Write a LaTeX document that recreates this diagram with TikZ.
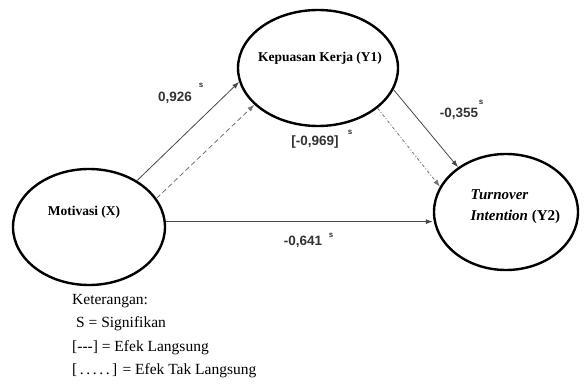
\documentclass[tikz,border=0pt]{standalone}
\usepackage{fontspec}
\setmainfont{Liberation Serif}
\newfontfamily\numfont{Liberation Sans}
\usetikzlibrary{shapes.geometric,arrows.meta}

\begin{document}
\begin{tikzpicture}[x=1pt,y=-1pt,
  var/.style={draw,ellipse,line width=2.4pt,inner sep=0pt},
  vtxt/.style={font=\bfseries\fontsize{13.5}{15}\selectfont,align=center},
  eff/.style={-{Latex[length=7pt,width=5pt]},line width=0.8pt,black!72},
  indir/.style={eff,dash pattern=on 5pt off 3pt,black!55},
  indirdot/.style={eff,dash pattern=on 3pt off 2pt on 1pt off 2pt,black!55},
  coef/.style={font=\numfont\bfseries\fontsize{13.5}{15}\selectfont,text=black!80},
  sig/.style={font=\numfont\bfseries\fontsize{8}{9}\selectfont,text=black!80}]
\useasboundingbox (0,0) rectangle (584,385);
\node[var,minimum width=160pt,minimum height=116pt] (Y1) at (318,68) {};
\node[var,minimum width=152pt,minimum height=116pt] (X) at (89,227) {};
\node[var,minimum width=144pt,minimum height=116pt] (Y2) at (506,212) {};
\node[vtxt] (y1txt) at (320,58) {Kepuasan Kerja (Y1)};
\node[vtxt] (xtxt) at (84,212) {Motivasi (X)};
\node[vtxt,align=left,anchor=west,font=\bfseries\fontsize{15}{21}\selectfont] (y2txt) at (467,207)
  {\itshape Turnover\\\itshape Intention \upshape(Y2)};
% direct and indirect paths
\draw[eff] (X.44) -- (Y1.190);
\draw[indir] (X.23) -- (Y1.210);
\draw[eff] (Y1.-16) -- (Y2.137);
\draw[indirdot] (Y1.-34) -- (Y2.159);
\draw[eff] (X.4) -- (X.4 -| Y2.west);
\node[coef] (c1) at (175,98) {0,926};
\node[sig] (c1s) at (201,85) {s};
\node[coef] (c2) at (315,142) {[-0,969]};
\node[sig] (c2s) at (350,132) {s};
\node[coef] (c3) at (459,114) {-0,355};
\node[sig] (c3s) at (481,102) {s};
\node[coef] (c4) at (303,242) {-0,641};
\node[sig] (c4s) at (331,235) {s};
\node[anchor=north west,align=left,inner sep=0pt,font=\fontsize{15.5}{23.5}\selectfont] (ket) at (72,294)
  {Keterangan:\\\hspace{4pt}S = Signifikan\\{[-{}-{}-]} = Efek Langsung\\{[\,.\,.\,.\,.\,.\,]} = Efek Tak Langsung};
\end{tikzpicture}
\end{document}
